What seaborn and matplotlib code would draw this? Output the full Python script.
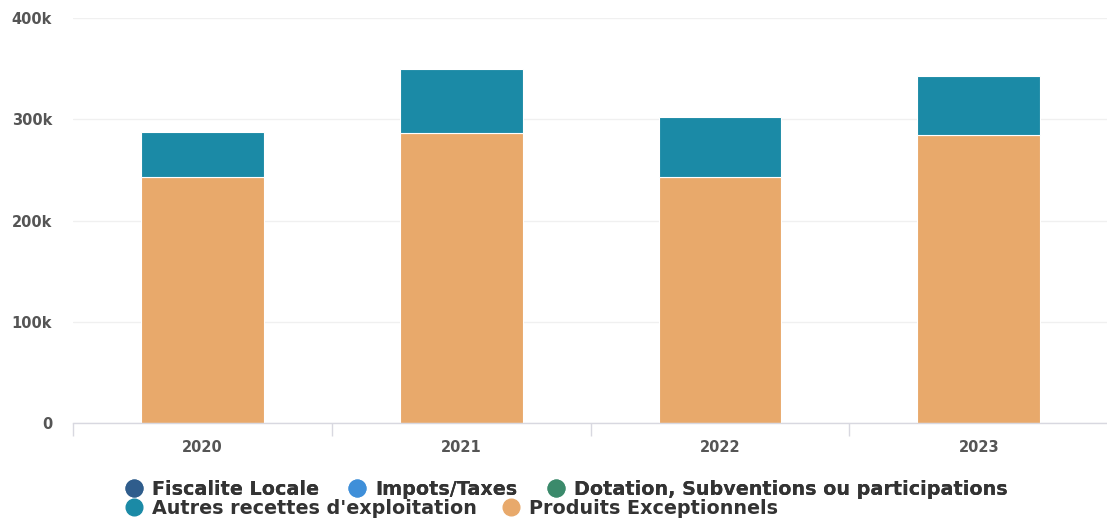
import matplotlib
matplotlib.use("Agg")
import matplotlib.pyplot as plt
from matplotlib.lines import Line2D
import seaborn as sns
import numpy as np

years = ["2020", "2021", "2022", "2023"]
fiscalite_locale = [0, 0, 0, 0]
impots_taxes = [0, 0, 0, 0]
dotation = [0, 0, 0, 0]
produits_exceptionnels = [243000, 286000, 243000, 284000]
autres_recettes = [44000, 64000, 59000, 59000]

series_names = ["Fiscalite Locale", "Impots/Taxes", "Dotation, Subventions ou participations",
                "Autres recettes d'exploitation", "Produits Exceptionnels"]
series_colors = ["#2f5d8c", "#3f8fd9", "#3b8a6b", "#1b8aa6", "#e8a96b"]

sns.set_theme(style="white")
plt.rcParams["font.family"] = ["DejaVu Sans"]

fig = plt.figure(figsize=(11.07, 5.21), dpi=100)
ax = fig.add_axes([0.066, 0.188, 0.935, 0.7775])

# stacked columns: exceptional products at the base, other operating revenue on top
stack = [
    (fiscalite_locale, series_colors[0]),
    (impots_taxes, series_colors[1]),
    (dotation, series_colors[2]),
    (produits_exceptionnels, series_colors[4]),
    (autres_recettes, series_colors[3]),
]
bottom = np.zeros(len(years))
for vals, col in stack:
    vals = np.asarray(vals, dtype=float)
    sns.barplot(x=years, y=vals, bottom=bottom, color=col, width=0.475,
                ax=ax, edgecolor="white", linewidth=0.8, saturation=1)
    bottom = bottom + vals

ax.set_ylim(0, 400000)
ax.set_xlim(-0.5, 3.5)
ax.set_yticks([0, 100000, 200000, 300000, 400000])
ax.set_yticklabels(["0", "100k", "200k", "300k", "400k"])
ax.yaxis.grid(True, color="#f0f0f0", linewidth=1)
ax.set_axisbelow(True)
for s in ["top", "right", "left"]:
    ax.spines[s].set_visible(False)
ax.spines["bottom"].set_color("#d8d8e0")
ax.spines["bottom"].set_linewidth(1)

# category boundary ticks under the axis
ax.set_xticks([0, 1, 2, 3])
ax.set_xticks([-0.5, 0.5, 1.5, 2.5, 3.5], minor=True)
ax.tick_params(axis="x", which="major", length=0, pad=12, labelsize=10.5, labelcolor="#555555")
ax.tick_params(axis="x", which="minor", length=9, width=1, color="#d8d8e0", bottom=True)
ax.tick_params(axis="y", length=0, pad=15, labelsize=10.5, labelcolor="#555555")
for lbl in ax.get_xticklabels() + ax.get_yticklabels():
    lbl.set_fontweight("bold")
ax.set_xlabel("")
ax.set_ylabel("")


def handle(c):
    return Line2D([0], [0], marker="o", linestyle="", markersize=12,
                  markerfacecolor=c, markeredgecolor=c)


legend_font = {"weight": "bold", "size": 13.8}
row1 = fig.legend([handle(series_colors[i]) for i in range(3)], series_names[:3],
                  loc="upper left", bbox_to_anchor=(0.112, 0.079), ncol=3, frameon=False,
                  prop=legend_font, handletextpad=0.45,
                  columnspacing=1.5, borderaxespad=0, borderpad=0, handlelength=1.0,
                  labelcolor="#333333")
fig.add_artist(row1)
row2 = fig.legend([handle(series_colors[i]) for i in (3, 4)], series_names[3:],
                  loc="upper left", bbox_to_anchor=(0.112, 0.042), ncol=2, frameon=False,
                  prop=legend_font, handletextpad=0.45,
                  columnspacing=1.3, borderaxespad=0, borderpad=0, handlelength=1.0,
                  labelcolor="#333333")

fig.savefig("out.png", dpi=100)
